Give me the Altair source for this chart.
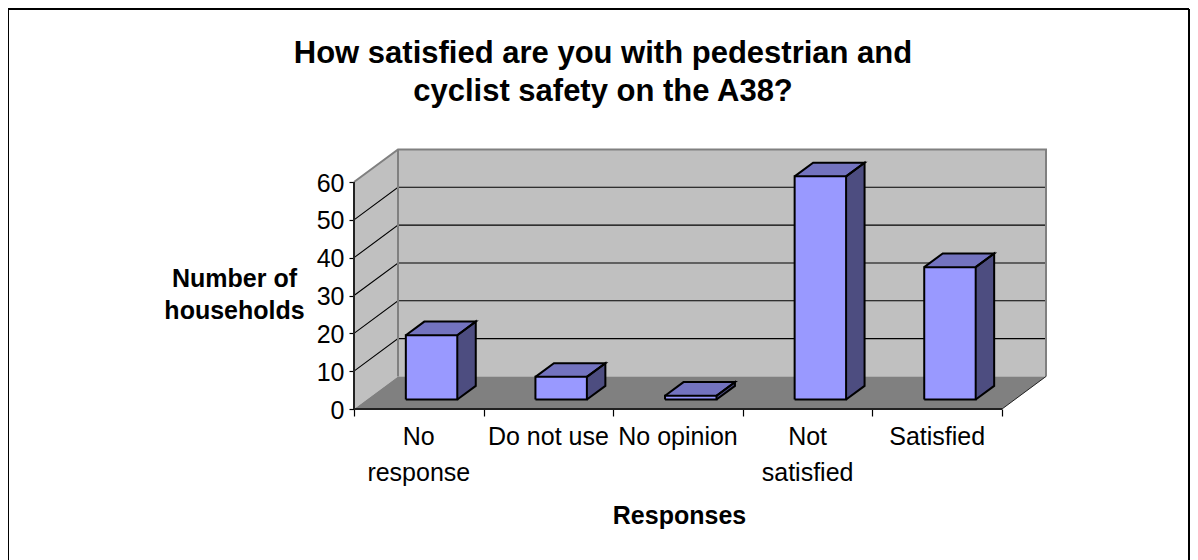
import altair as alt
import pandas as pd

categories = ["No\nresponse", "Do not use", "No opinion", "Not\nsatisfied", "Satisfied"]
values = [17, 6, 1, 59, 35]
y_ticks = [0, 10, 20, 30, 40, 50, 60]
x_ticks = [0, 1, 2, 3, 4, 5]
title_text = "How satisfied are you with pedestrian and\ncyclist safety on the A38?"
y_title = ["Number of", "households"]
x_title = "Responses"

FONT = "Liberation Sans"
N = len(categories)
DX, DY = 0.3395, 8.6           # depth of the 3D box in axis units
XMAX, YMAX = 693 / 129.6, 260 / 3.783
BAR_W = 0.397
FRONT, DEPTH = 0.29, 0.42      # where bars stand in the depth of the box

x_scale = alt.Scale(domain=[0, XMAX], nice=False, zero=False)
y_scale = alt.Scale(domain=[0, YMAX], nice=False, zero=False)
x_axis = alt.Axis(
    values=x_ticks, labels=False, domain=False, grid=False, ticks=True, tickSize=7,
    tickColor="#000000", tickWidth=1.2, title=x_title, titleFont=FONT, titleFontSize=25,
    titleFontWeight="bold", titleColor="#000000", titleX=325, titleY=114, titleAlign="center",
    titleBaseline="alphabetic")
y_axis = alt.Axis(
    values=y_ticks, domain=False, grid=False, ticks=True, tickSize=5, tickColor="#000000",
    tickWidth=1.2, format="d", labelFont=FONT, labelFontSize=25, labelColor="#000000",
    labelPadding=5, labelOffset=1, title=y_title, titleFont=FONT, titleFontSize=25, titleFontWeight="bold",
    titleColor="#000000", titleAngle=0, titleX=-120, titleY=137, titleAlign="center",
    titleBaseline="alphabetic", titleLineHeight=32)
X = alt.X("x:Q", scale=x_scale, axis=x_axis)
Y = alt.Y("y:Q", scale=y_scale, axis=y_axis)


def rows_area(group, fill, stops):
    return [{"g": group, "fill": fill, "x": a, "y": b, "y2": c} for a, b, c in stops]


def rows_line(group, pts):
    return [{"g": group, "i": k, "x": a, "y": b} for k, (a, b) in enumerate(pts)]


def areas(rows):
    return alt.Chart(pd.DataFrame(rows)).mark_area(opacity=1, strokeWidth=0, clip=False).encode(
        x=X, y=Y, y2="y2:Q",
        fill=alt.Fill("fill:N", scale=None), detail="g:N")


def lines(rows, color, width):
    return alt.Chart(pd.DataFrame(rows)).mark_line(color=color, strokeWidth=width, strokeJoin="miter").encode(
        x=X, y=Y, detail="g:N", order="i:Q")


top = y_ticks[-1]
wall = "#C0C0C0"
walls = areas(
    rows_area("side", wall, [(0, 0, top), (DX, DY, top + DY)])
    + rows_area("back", wall, [(DX, DY, top + DY), (N + DX, DY, top + DY)])
)
grid_rows = []
for v in y_ticks[1:-1]:
    grid_rows += rows_line(f"g{v}", [(0, v), (DX, v + DY), (N + DX, v + DY)])
grid = lines(grid_rows, "#000000", 1.1)

border_rows = rows_line("b1", [(0, top), (DX, top + DY), (N + DX, top + DY), (N + DX, DY)])
border_rows += rows_line("b2", [(DX, top + DY), (DX, DY)])
border = lines(border_rows, "#808080", 2)

floor = areas(rows_area("floor", "#808080", [(0, 0, 0), (DX, 0, DY), (N, 0, DY), (N + DX, DY, DY)]))
floor_edge = lines(rows_line("e", [(N, 0), (N + DX, DY)]), "#222222", 1)

bar_fill, bar_line = [], []
for i, v in enumerate(values):
    x0 = i + 0.5 - BAR_W / 2 + DX * FRONT
    x1 = x0 + BAR_W
    b = DY * FRONT
    t = b + v
    dx, dy = DX * DEPTH, DY * DEPTH
    bar_fill += rows_area(f"f{i}", "#9999FF", [(x0, b, t), (x1, b, t)])
    bar_fill += rows_area(f"s{i}", "#4D4D80", [(x1, b, t), (x1 + dx, b + dy, t + dy)])
    bar_fill += rows_area(f"t{i}", "#7373BF", [(x0, t, t), (x0 + dx, t, t + dy), (x1, t, t + dy), (x1 + dx, t + dy, t + dy)])
    bar_line += rows_line(f"f{i}", [(x0, b), (x1, b), (x1, t), (x0, t), (x0, b)])
    bar_line += rows_line(f"s{i}", [(x1, b), (x1 + dx, b + dy), (x1 + dx, t + dy), (x1, t)])
    bar_line += rows_line(f"t{i}", [(x0, t), (x0 + dx, t + dy), (x1 + dx, t + dy), (x1, t)])
bars = areas(bar_fill)
bar_edges = lines(bar_line, "#000000", 2)

axis_lines = lines(rows_line("ya", [(0, 0), (0, top)]) + rows_line("xa", [(0, 0), (N, 0)]), "#222222", 2)

cat_df = pd.DataFrame({"x": [i + 0.5 for i in range(N)], "y": [0] * N, "label": categories})
cat_labels = alt.Chart(cat_df).mark_text(
    font=FONT, fontSize=25, color="#000000", baseline="top", align="center", lineBreak="\n", lineHeight=36, dy=16
).encode(x=X, y=Y, text="label:N")

title = alt.Chart(pd.DataFrame({"t": [title_text]})).mark_text(
    font=FONT, fontSize=31, fontWeight="bold", color="#000000", align="center", baseline="alphabetic",
    lineBreak="\n", lineHeight=38
).encode(x=alt.value(603 - 354), y=alt.value(63 - 149), text="t:N")

frame1 = alt.Chart(pd.DataFrame({"a": [0]})).mark_rule(color="#000000", strokeWidth=2).encode(
    x=alt.value(8 - 354), y=alt.value(9 - 149), y2=alt.value(570 - 149))
frame2 = alt.Chart(pd.DataFrame({"a": [0]})).mark_rule(color="#000000", strokeWidth=2).encode(
    x=alt.value(1189 - 354), y=alt.value(9 - 149), y2=alt.value(570 - 149))
frame3 = alt.Chart(pd.DataFrame({"a": [0]})).mark_rule(color="#000000", strokeWidth=2).encode(
    x=alt.value(8 - 354), x2=alt.value(1189 - 354), y=alt.value(9 - 149))

chart = alt.layer(
    walls, grid, border, floor, floor_edge, axis_lines, bars, bar_edges, cat_labels, title, frame1, frame2, frame3
).properties(
    width=693, height=260,
    autosize=alt.AutoSizeParams(type="none"),
    padding={"left": 346, "top": 141, "right": 143, "bottom": 151},
    background="#FFFFFF",
).configure_view(stroke=None)

chart.save("out.html", embed_options={"renderer": "svg", "actions": False})
